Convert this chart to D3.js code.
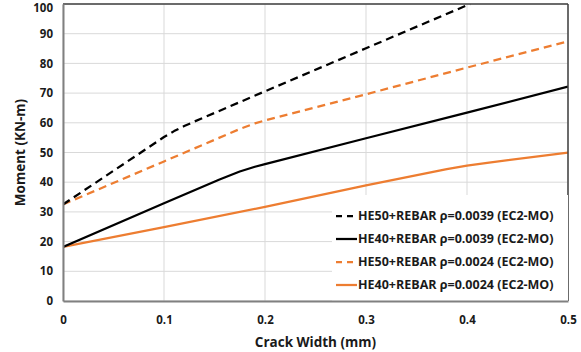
<!DOCTYPE html>
<html>
<head>
<meta charset="utf-8">
<script src="https://cdnjs.cloudflare.com/ajax/libs/d3/7.8.5/d3.min.js"></script>
<style>
  body { margin: 0; background: #fff; }
  svg text { font-family: "Open Sans", "Liberation Sans", sans-serif; font-weight: 700; fill: #1a1a1a; }
</style>
</head>
<body>
<svg id="chart" width="581" height="352"></svg>
<script>
// crack width (mm) vs moment (kN-m)
var he50r39 = [[0, 32.5], [0.1, 55.2], [0.11, 57.2], [0.12, 58.9], [0.13, 60.4], [0.2, 70.6], [0.3, 85.1], [0.403, 100]];
var he40r39 = [[0, 18.2], [0.1, 32.9], [0.155, 40.9], [0.175, 43.6], [0.19, 45.2], [0.2, 46.1], [0.3, 54.8], [0.4, 63.4], [0.5, 72.2]];
var he50r24 = [[0, 32.5], [0.1, 47], [0.175, 57.9], [0.19, 59.8], [0.2, 60.8], [0.3, 69.6], [0.4, 78.6], [0.5, 87.4]];
var he40r24 = [[0, 18.2], [0.1, 24.9], [0.2, 31.7], [0.3, 38.9], [0.38, 44.4], [0.4, 45.6], [0.42, 46.5], [0.5, 50]];

var seriesNames = ["HE50+REBAR \u03c1=0.0039 (EC2-MO)", "HE40+REBAR \u03c1=0.0039 (EC2-MO)",
    "HE50+REBAR \u03c1=0.0024 (EC2-MO)", "HE40+REBAR \u03c1=0.0024 (EC2-MO)"];
var xTicks = [0, 0.1, 0.2, 0.3, 0.4, 0.5];
var yTicks = [0, 10, 20, 30, 40, 50, 60, 70, 80, 90, 100];

var series = [
    {name: seriesNames[0], data: he50r39, color: "#000000", dash: "8,5"},
    {name: seriesNames[1], data: he40r39, color: "#000000", dash: null},
    {name: seriesNames[2], data: he50r24, color: "#ED7D31", dash: "8,5"},
    {name: seriesNames[3], data: he40r24, color: "#ED7D31", dash: null}
];

var svg = d3.select("#chart");
var margin = {left: 63, right: 13, top: 4, bottom: 51};
var width = 581 - margin.left - margin.right;
var height = 352 - margin.top - margin.bottom;

var x = d3.scaleLinear().domain([0, 0.5]).range([0, width]);
var y = d3.scaleLinear().domain([0, 100]).range([height, 0]);

var g = svg.append("g").attr("transform", "translate(" + margin.left + "," + margin.top + ")");

// gridlines
g.selectAll(".hgrid").data(yTicks).enter().append("line")
    .attr("x1", 0).attr("x2", width)
    .attr("y1", function(d) { return y(d); }).attr("y2", function(d) { return y(d); })
    .attr("stroke", "#d9d9d9").attr("stroke-width", 1);
g.selectAll(".vgrid").data(xTicks).enter().append("line")
    .attr("y1", 0).attr("y2", height)
    .attr("x1", function(d) { return x(d); }).attr("x2", function(d) { return x(d); })
    .attr("stroke", "#d9d9d9").attr("stroke-width", 1);

g.append("clipPath").attr("id", "plotclip")
    .append("rect").attr("width", width).attr("height", height);

var line = d3.line()
    .x(function(d) { return x(d[0]); })
    .y(function(d) { return y(d[1]); });

g.append("g").attr("clip-path", "url(#plotclip)")
    .selectAll("path").data(series.slice().reverse()).enter().append("path")
    .attr("d", function(d) { return line(d.data); })
    .attr("fill", "none")
    .attr("stroke", function(d) { return d.color; })
    .attr("stroke-width", 2.25)
    .attr("stroke-linejoin", "round")
    .attr("stroke-dasharray", function(d) { return d.dash; });

// frame: top/right dark, left/bottom axis gray
g.append("line").attr("x1", 0).attr("x2", width).attr("y1", 0).attr("y2", 0)
    .attr("stroke", "#404040").attr("stroke-width", 1.5);
g.append("line").attr("x1", width).attr("x2", width).attr("y1", 0).attr("y2", height)
    .attr("stroke", "#404040").attr("stroke-width", 1.5);

// legend
var lg = g.append("g").attr("transform", "translate(" + (width - 236) + "," + (height - 106) + ")");
lg.append("rect").attr("width", 236).attr("height", 106).attr("fill", "#fff");
var item = lg.selectAll(".item").data(series).enter().append("g")
    .attr("transform", function(d, i) { return "translate(0," + (21 + i * 23) + ")"; });
item.append("line").attr("x1", 4).attr("x2", 25)
    .attr("stroke", function(d) { return d.color; })
    .attr("stroke-width", 2.25)
    .attr("stroke-dasharray", function(d) { return d.dash ? "6,5" : null; });
item.append("text").attr("x", 26).attr("dy", "0.35em")
    .attr("font-size", 12.5)
    .text(function(d) { return d.name; });

// axes
var xAxis = d3.axisBottom(x).tickValues(xTicks).tickSize(0).tickPadding(15)
    .tickFormat(function(d) { return d === 0 ? "0" : d3.format(".1f")(d); });
var yAxis = d3.axisLeft(y).tickValues(yTicks).tickSize(0).tickPadding(10);

var gx = g.append("g").attr("transform", "translate(0," + height + ")").call(xAxis);
var gy = g.append("g").call(yAxis);
[gx, gy].forEach(function(a) {
    a.select(".domain").attr("stroke", "#808080").attr("stroke-width", 2);
    a.selectAll("text").attr("font-size", 11.5).attr("font-family", null);
});
gy.selectAll(".tick text").attr("dy", function(d) { return d === 100 ? "0.62em" : "0.32em"; });

svg.append("text")
    .attr("x", margin.left + width / 2).attr("y", 347)
    .attr("text-anchor", "middle").attr("font-size", 13.5)
    .text("Crack Width (mm)");
svg.append("text")
    .attr("transform", "translate(25," + (margin.top + height / 2) + ") rotate(-90)")
    .attr("text-anchor", "middle").attr("font-size", 13.5)
    .text("Moment (KN-m)");
</script>
</body>
</html>
